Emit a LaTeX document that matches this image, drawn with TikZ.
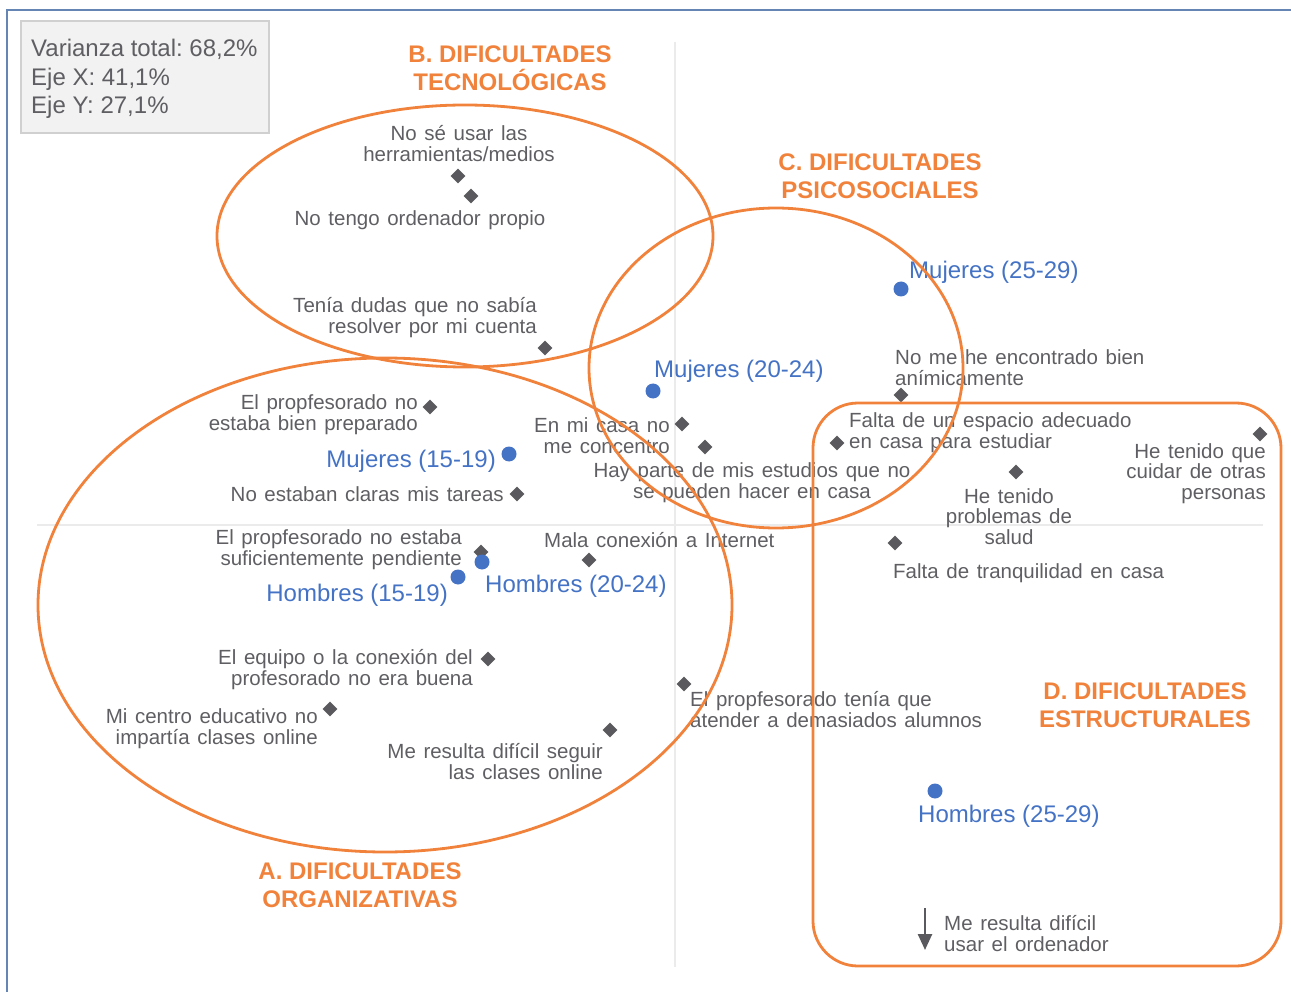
\documentclass[tikz,border=0pt]{standalone}
\usepackage{fontspec}
\setmainfont{Liberation Sans}
\usetikzlibrary{shapes.geometric,arrows.meta}
\frenchspacing
\definecolor{orng}{HTML}{F0823C}
\definecolor{ptblue}{HTML}{4472C4}
\definecolor{txtgray}{HTML}{5F5F63}
\definecolor{mkgray}{HTML}{5A5A5E}
\definecolor{framecol}{HTML}{6585B5}
\definecolor{boxfill}{HTML}{F2F2F2}
\definecolor{boxline}{HTML}{D0D0D0}
\definecolor{axiscol}{HTML}{EBEBEB}
\tikzset{
  lbl/.style={font={\fontsize{20.5}{20.5}\selectfont\spaceskip=7.6pt\relax}, text=txtgray, inner sep=0pt, yshift=-1.5pt},
  grp/.style={font={\fontsize{24}{24}\selectfont}, text=ptblue, inner sep=0pt, yshift=-1.5pt},
  ttl/.style={font={\bfseries\fontsize{24}{27.5}\selectfont}, text=orng, align=center, inner sep=0pt, yshift=-1pt},
  mk/.style={diamond, fill=mkgray, minimum width=15pt, minimum height=15pt, inner sep=0pt, aspect=1},
  dot/.style={circle, fill=ptblue, minimum size=15pt, inner sep=0pt},
  grpline/.style={draw=orng, line width=2.8pt},
  axisline/.style={draw=axiscol, line width=2pt},
}
\begin{document}
\begin{tikzpicture}[x=1pt,y=-1pt]
\useasboundingbox (0,0) rectangle (1291,992);
% frame
\draw[framecol, line width=2pt] (7,992) -- (7,10) -- (1291,10);
% axes
\draw[axisline] (675,42) -- (675,967);
\draw[axisline] (37,525) -- (1263,525);
% variance box
\node (box) [draw=boxline, fill=boxfill, line width=2pt, minimum width=248pt, minimum height=112pt, anchor=north west, inner sep=0pt] at (20,20) {};
\node (boxtxt) [anchor=west, align=left, inner sep=0pt, text=txtgray, font={\fontsize{24}{28.5}\selectfont}] at (31,79) {Varianza total: 68,2\%\\Eje X: 41,1\%\\Eje Y: 27,1\%};
% markers
\node (m1) [mk] at (458,176) {};
\node (m2) [mk] at (471,196) {};
\node (m3) [mk] at (545,348) {};
\node (m4) [mk] at (430,407) {};
\node (m5) [mk] at (517,494) {};
\node (m6) [mk] at (481,552) {};
\node (m7) [mk] at (589,560) {};
\node (m8) [mk] at (682,424) {};
\node (m9) [mk] at (705,447) {};
\node (m10) [mk] at (901,395) {};
\node (m11) [mk] at (837,443) {};
\node (m12) [mk] at (1016,472) {};
\node (m13) [mk] at (1260,434) {};
\node (m14) [mk] at (895,543) {};
\node (m15) [mk] at (488,659) {};
\node (m16) [mk] at (330,709) {};
\node (m17) [mk] at (610,730) {};
\node (m18) [mk] at (684,684) {};
% dots
\node (d1) [dot] at (509,454) {};
\node (d2) [dot] at (482,562) {};
\node (d3) [dot] at (458,577) {};
\node (d4) [dot] at (653,391) {};
\node (d5) [dot] at (901,289) {};
\node (d6) [dot] at (935,791) {};
% gray labels
\node (l1) [lbl, align=center] at (459,142) {No sé usar las\\herramientas/medios};
\node (l2) [lbl] at (420,219) {No tengo ordenador propio};
\node (l3) [lbl, align=right, anchor=east] at (537,316) {Tenía dudas que no sabía\\resolver por mi cuenta};
\node (l4) [lbl, align=right, anchor=east] at (418,413) {El propfesorado no\\estaba bien preparado};
\node (l5) [lbl, anchor=east] at (504,493) {No estaban claras mis tareas};
\node (l6) [lbl, align=right, anchor=east] at (462,548) {El propfesorado no estaba\\suficientemente pendiente};
\node (l7) [lbl, anchor=west] at (544,539) {Mala conexión a Internet};
\node (l8) [lbl, align=right, anchor=east] at (670,434) {En mi casa no\\me concentro};
\node (l9) [lbl, align=center] at (752,481) {Hay parte de mis estudios que no\\se pueden hacer en casa};
\node (l10) [lbl, align=left, anchor=west] at (895,366) {No me he encontrado bien\\anímicamente};
\node (l11) [lbl, align=left, anchor=west] at (849,431) {Falta de un espacio adecuado\\en casa para estudiar};
\node (l12) [lbl, align=center] at (1009,515) {He tenido\\problemas de\\salud};
\node (l13) [lbl, align=right, anchor=east] at (1266,472) {He tenido que\\cuidar de otras\\personas};
\node (l14) [lbl, anchor=west] at (893,572) {Falta de tranquilidad en casa};
\node (l15) [lbl, align=right, anchor=east] at (473,668) {El equipo o la conexión del\\profesorado no era buena};
\node (l16) [lbl, align=right, anchor=east] at (318,727) {Mi centro educativo no\\impartía clases online};
\node (l17) [lbl, align=right, anchor=east] at (603,760) {Me resulta difícil seguir\\las clases online};
\node (l18) [lbl, align=left, anchor=west] at (690,708) {El propfesorado tenía que\\atender a demasiados alumnos};
\node (l19) [lbl, align=left, anchor=west] at (944,932) {Me resulta difícil\\usar el ordenador};
% group labels
\node (g1) [grp, anchor=east] at (496,460) {Mujeres (15-19)};
\node (g2) [grp, anchor=west] at (485,585) {Hombres (20-24)};
\node (g3) [grp, anchor=east] at (448,594) {Hombres (15-19)};
\node (g4) [grp, anchor=west] at (654,370) {Mujeres (20-24)};
\node (g5) [grp, anchor=west] at (909,271) {Mujeres (25-29)};
\node (g6) [grp, anchor=west] at (918,815) {Hombres (25-29)};
% arrow
\coordinate (arrS) at (925,908);
\coordinate (arrE) at (925,950);
\draw[mkgray, line width=2.5pt, -{Triangle[width=14pt,length=16pt]}] (arrS) -- (arrE);
% titles
\node (tB) [ttl] at (510,67) {B. DIFICULTADES\\TECNOLÓGICAS};
\node (tC) [ttl] at (880,175) {C. DIFICULTADES\\PSICOSOCIALES};
\node (tD) [ttl] at (1145,704) {D. DIFICULTADES\\ESTRUCTURALES};
\node (tA) [ttl] at (360,884) {A. DIFICULTADES\\ORGANIZATIVAS};
% group shapes
\draw[grpline] (465,236) ellipse [x radius=248, y radius=131];
\draw[grpline] (385,605) ellipse [x radius=347, y radius=247];
\draw[grpline] (776,368) ellipse [x radius=187, y radius=160];
\draw[grpline, rounded corners=45pt] (813,403) rectangle (1281,966);
\end{tikzpicture}
\end{document}
